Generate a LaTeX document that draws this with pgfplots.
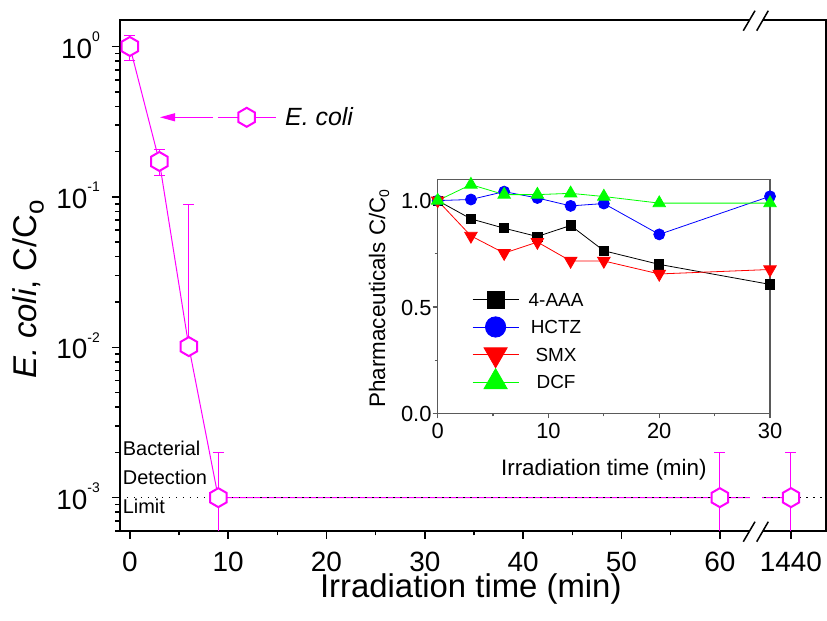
\documentclass[border=0pt]{standalone}
\usepackage{pgfplots}
\pgfplotsset{compat=1.18}
\usepackage{pgfplotstable}
\usepackage{fontspec}
\setmainfont{Liberation Sans}
\usetikzlibrary{arrows.meta}

\definecolor{ecoli}{RGB}{255,0,255}
\definecolor{pblue}{RGB}{0,0,255}
\definecolor{pred}{RGB}{255,0,0}
\definecolor{pgreen}{RGB}{0,255,0}
\definecolor{insetframe}{RGB}{90,90,90}

% pointy-top hexagon mark (open, white fill)
\pgfdeclareplotmark{hexagon}{%
  \pgfpathmoveto{\pgfqpointpolar{90}{\pgfplotmarksize}}%
  \pgfpathlineto{\pgfqpointpolar{150}{\pgfplotmarksize}}%
  \pgfpathlineto{\pgfqpointpolar{210}{\pgfplotmarksize}}%
  \pgfpathlineto{\pgfqpointpolar{270}{\pgfplotmarksize}}%
  \pgfpathlineto{\pgfqpointpolar{330}{\pgfplotmarksize}}%
  \pgfpathlineto{\pgfqpointpolar{30}{\pgfplotmarksize}}%
  \pgfpathclose
  \pgfusepathqfillstroke}

\newcommand\sups[1]{\raisebox{16.5bp}{\fontsize{14}{14}\selectfont #1}}

% E. coli, C/Co ; pos = place on the broken x axis (1440 min drawn at 67.24)
% ep/emc: capped error bars, em: lower bars that run to the axis
\pgfplotstableread{
t     pos    c       ep     emc    em
0     0      1       0.18   0.19   0
3     3      0.172   0.035  0.034  0
6     6      0.0101  0.079  0      0
9     9      0.001   0.001  0      0.0004
60    60     0.001   0.001  0      0.0004
1440  67.24  0.001   0.001  0      0.0004
}\ecolidata

\pgfplotstableread{
t   aaa    hctz   smx    dcf
0   1.000  1.000  1.000  1.000
3   0.914  1.005  0.834  1.075
6   0.870  1.042  0.753  1.028
9   0.831  1.012  0.805  1.028
12  0.883  0.975  0.716  1.034
15  0.764  0.986  0.716  1.019
20  0.700  0.841  0.655  0.988
30  0.606  1.020  0.676  0.988
}\pharma

\begin{document}
\begin{tikzpicture}
\path[use as bounding box] (-120bp,-90bp) rectangle (707bp,531bp);

\begin{axis}[
  name=main, at={(0,0)}, anchor=south west,
  scale only axis, width=706bp, height=511bp,
  ymode=log,
  xmin=-1, xmax=70.8, ymin=6e-4, ymax=1.5,
  axis line style={line width=1.5bp},
  xtick={0,10,20,30,40,50,60,67.24},
  xticklabels={0,10,20,30,40,50,60,1440},
  minor xtick={5,15,25,35,45,55},
  ytick={0.001,0.01,0.1,1},
  yticklabels={10\sups{-3},10\sups{-2},10\sups{-1},10\sups{0}},
  minor ytick={6e-4,7e-4,8e-4,9e-4,2e-3,3e-3,4e-3,5e-3,6e-3,7e-3,8e-3,9e-3,
    2e-2,3e-2,4e-2,5e-2,6e-2,7e-2,8e-2,9e-2,0.2,0.3,0.4,0.5,0.6,0.7,0.8,0.9},
  tick align=outside, xtick pos=bottom, ytick pos=left,
  major tick length=8bp, minor tick length=4.5bp,
  tick style={black, line width=1.5bp},
  ticklabel style={font=\fontsize{28}{28}\selectfont},
  xticklabel style={anchor=base, inner sep=0pt, text depth=0pt, yshift=-32.7bp},
  yticklabel style={anchor=base east, inner sep=0pt, xshift=-12bp, yshift=-11.6bp},
  xlabel={Irradiation time (min)},
  ylabel={\textit{E. coli}, C/C\raisebox{-7bp}{\fontsize{26}{26}\selectfont o}},
  label style={font=\fontsize{33}{33}\selectfont},
  xlabel style={at={(axis description cs:0.4969,-0.1297)}, anchor=base,
    inner sep=0pt, text height=22bp},
  ylabel style={at={(axis description cs:-0.118,0.4726)}, anchor=base, inner sep=0pt},
  legend style={draw=none, fill=none, at={(axis description cs:0.1374,0.8096)},
    anchor=west, inner sep=0pt, nodes={inner sep=0pt}, column sep=9bp,
    font=\fontsize{25}{25}\selectfont},
  legend image code/.code={\draw[mark repeat=2,mark phase=2,#1]
    plot coordinates {(0bp,0bp)(29bp,0bp)(58bp,0bp)};},
  clip=false,
]
% lower error bars that run down to the axis (values below detection limit)
\addplot[forget plot, draw=none, mark=none,
  skip coords between index={0}{3},
  error bars/.cd, y dir=minus, y explicit, error mark=none,
  error bar style={draw=ecoli, line width=1bp}]
  table[x=pos, y=c, y error minus=em] {\ecolidata};

\addplot[ecoli, line width=1bp, mark=hexagon, mark size=9.5bp,
  mark options={draw=ecoli, fill=white, line width=2bp},
  error bars/.cd, y dir=both, y explicit,
  error bar style={ecoli, line width=1bp},
  error mark options={rotate=90, ecoli, line width=1bp, mark size=5.5bp}]
  table[x=pos, y=c, y error plus=ep, y error minus=emc] {\ecolidata};
\addlegendentry{\textit{E. coli}}

% bacterial detection limit
\addplot[forget plot, black, line width=1.5bp, dash pattern=on 1.5bp off 5.5bp]
  coordinates {(-1,0.001) (70.8,0.001)};
\end{axis}

% arrow from the legend entry to the curve
\draw[ecoli, line width=1bp, -{Triangle[length=15bp,width=8bp]}]
  (93bp,413.7bp) -- (40bp,413.7bp);

\node[anchor=base west, inner sep=0pt, font=\fontsize{20}{20}\selectfont] at (2.7bp,75bp) {Bacterial};
\node[anchor=base west, inner sep=0pt, font=\fontsize{20}{20}\selectfont] at (2.7bp,46.7bp) {Detection};
\node[anchor=base west, inner sep=0pt, font=\fontsize{20}{20}\selectfont] at (2.7bp,17.7bp) {Limit};

% axis break
\fill[white] (630bp,29.5bp) rectangle (642bp,37.5bp);
\fill[white] (627.2bp,-4bp) -- (640.6bp,-4bp) -- (645.3bp,4bp) -- (631.9bp,4bp) -- cycle;
\fill[white] (627.2bp,507bp) -- (640.6bp,507bp) -- (645.3bp,515bp) -- (631.9bp,515bp) -- cycle;
\draw[line width=1.5bp] (623.3bp,-10.7bp) -- (635bp,9.3bp) (636.7bp,-10.7bp) -- (648.3bp,9.3bp);
\draw[line width=1.5bp] (623.3bp,500.3bp) -- (635bp,520.3bp) (636.7bp,500.3bp) -- (648.3bp,520.3bp);

\begin{axis}[
  name=inset, at={(317.7bp,117.7bp)}, anchor=south west,
  scale only axis, width=332.3bp, height=234bp,
  xmin=0, xmax=30, ymin=0, ymax=1.1,
  xtick={0,10,20,30}, minor xtick={5,15,25},
  ytick={0,0.5,1}, minor ytick={0.25,0.75},
  yticklabel style={/pgf/number format/fixed, /pgf/number format/fixed zerofill,
    /pgf/number format/precision=1},
  /pgf/number format/assume math mode=true,
  axis line style={insetframe, line width=1.2bp},
  tick style={insetframe, line width=1.2bp},
  tick align=outside, xtick pos=bottom, ytick pos=left,
  major tick length=5bp, minor tick length=3bp,
  ticklabel style={font=\fontsize{22}{22}\selectfont},
  xticklabel style={anchor=base, inner sep=0pt, yshift=-20bp},
  yticklabel style={anchor=base east, inner sep=0pt, xshift=-1bp, yshift=-8.3bp},
  xlabel={Irradiation time (min)},
  ylabel={Pharmaceuticals C/C\raisebox{-4bp}{\fontsize{14}{14}\selectfont 0}},
  label style={font=\fontsize{22.5}{22.5}\selectfont},
  xlabel style={at={(axis description cs:0.5,-0.2637)}, anchor=base, inner sep=0pt},
  ylabel style={at={(axis description cs:-0.1586,0.491)}, anchor=base, inner sep=0pt},
  legend style={draw=none, fill=none, at={(axis description cs:0.1032,0.546)},
    anchor=north west, inner sep=0pt,
    nodes={inner sep=0pt, text height=20.5bp, text depth=7bp},
    column sep=9.7bp, row sep=0pt, font=\fontsize{19}{19}\selectfont},
  legend image code/.code={\draw[mark repeat=2,mark phase=2,#1]
    plot coordinates {(0bp,0bp)(23bp,0bp)(46bp,0bp)};},
  legend image post style={every mark/.append style={scale=1.85}},
]
\addplot[black, line width=0.8bp, mark=square*, mark size=4.6bp,
  mark options={fill=black}] table[x=t, y=aaa] {\pharma};
\addlegendentry{4-AAA}
\addplot[pblue, line width=0.8bp, mark=*, mark size=5.5bp,
  mark options={fill=pblue}] table[x=t, y=hctz] {\pharma};
\addlegendentry{HCTZ}
\addplot[pred, line width=0.8bp, mark=triangle*, mark size=7.2bp,
  mark options={fill=pred, rotate=180}] table[x=t, y=smx] {\pharma};
\addlegendentry{SMX}
\addplot[pgreen, line width=0.8bp, mark=triangle*, mark size=7.2bp,
  mark options={fill=pgreen}] table[x=t, y=dcf] {\pharma};
\addlegendentry{DCF}
\end{axis}
\end{tikzpicture}
\end{document}
